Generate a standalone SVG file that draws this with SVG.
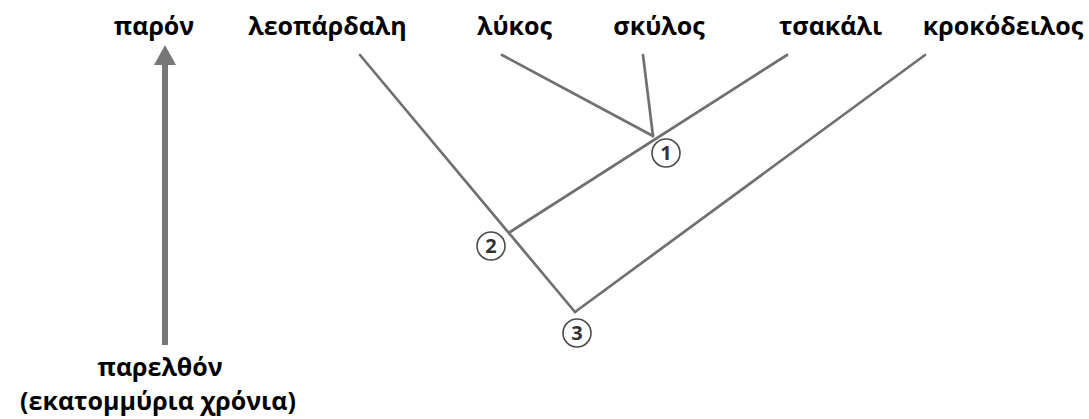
<svg xmlns="http://www.w3.org/2000/svg" width="1089" height="419" viewBox="0 0 1089 419">
<style>
.lbl{font-family:"Open Sans","Liberation Sans",sans-serif;font-weight:bold;font-size:25px;fill:#000;text-anchor:middle}
.br{stroke:#707070;stroke-width:2.7;fill:none;stroke-linecap:round}
.nc{fill:#fff;stroke:#4a4a4a;stroke-width:1.6}
.nt{font-family:"Open Sans","Liberation Sans",sans-serif;font-weight:bold;font-size:20px;fill:#333;text-anchor:middle}
</style>
<rect width="1089" height="419" fill="#fff"/>
<g id="labels">
<text class="lbl" x="154" y="35">παρόν</text>
<text class="lbl" x="327.5" y="35">λεοπάρδαλη</text>
<text class="lbl" x="514.5" y="35">λύκος</text>
<text class="lbl" x="659" y="35">σκύλος</text>
<text class="lbl" x="830.5" y="35">τσακάλι</text>
<text class="lbl" x="1003" y="35">κροκόδειλος</text>
<text class="lbl" x="160" y="376">παρελθόν</text>
<text class="lbl" x="158" y="410">(εκατομμύρια χρόνια)</text>
</g>
<g id="connectors">
<line class="br" x1="360" y1="55" x2="575" y2="312"/>
<line class="br" x1="575" y1="312" x2="925" y2="55"/>
<line class="br" x1="510" y1="232" x2="787" y2="55"/>
<line class="br" x1="502" y1="55" x2="653" y2="136"/>
<line class="br" x1="643" y1="55" x2="653" y2="136"/>
<g id="time-axis">
<rect x="162" y="64" width="6" height="281" fill="#777"/>
<polygon points="165,45 154,65 176,65" fill="#777"/>
</g>
</g>
<g id="node1"><circle class="nc" cx="666" cy="153" r="14"/><text class="nt" x="666" y="160">1</text></g>
<g id="node2"><circle class="nc" cx="491" cy="246" r="14"/><text class="nt" x="491" y="253">2</text></g>
<g id="node3"><circle class="nc" cx="577" cy="333" r="14"/><text class="nt" x="577" y="340">3</text></g>
</svg>
